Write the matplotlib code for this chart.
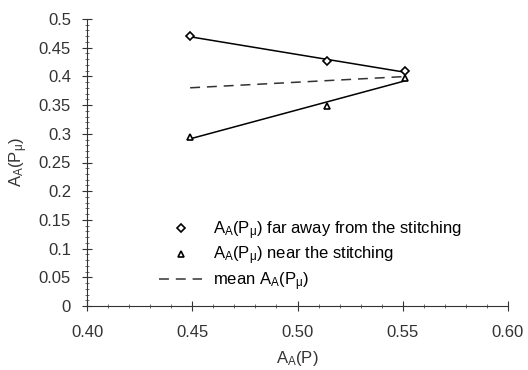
import numpy as np
import matplotlib
matplotlib.use("Agg")
from matplotlib import pyplot as plt
from matplotlib.ticker import MultipleLocator, FormatStrFormatter

# values
x_pos = [0.449, 0.514, 0.551]
far_vals = [0.470, 0.427, 0.409]
near_vals = [0.294, 0.348, 0.397]

x_ticks = [0.40, 0.45, 0.50, 0.55, 0.60]
y_ticks = [0, 0.05, 0.1, 0.15, 0.2, 0.25, 0.3, 0.35, 0.4, 0.45, 0.5]

plt.rcParams['font.family'] = ['Liberation Sans', 'DejaVu Sans']
plt.rcParams['mathtext.fontset'] = 'custom'
plt.rcParams['mathtext.rm'] = 'Liberation Sans'
plt.rcParams['mathtext.it'] = 'Liberation Sans'

fs = 12
txt = '#333333'
dash = (0, (6.5, 4.5))

fig = plt.figure(figsize=(5.28, 3.70), dpi=100)
ax = fig.add_axes([87 / 528, 64 / 370, 421 / 528, 287 / 370])

x = np.array(x_pos)
# linear trend lines, like the original spreadsheet chart
p_far = np.polyfit(x, far_vals, 1)
p_near = np.polyfit(x, near_vals, 1)
p_mean = (p_far + p_near) / 2
xs = np.array([x.min(), x.max()])

ax.plot(xs, np.polyval(p_far, xs), color='black', lw=1.1)
ax.plot(xs, np.polyval(p_near, xs), color='black', lw=1.1)
ax.plot(xs, np.polyval(p_mean, xs), color='#333333', lw=1.1, ls=dash)

lbl = r'A$_\mathrm{A}$(P$_\mathrm{\mu}$)'
ax.plot(x, far_vals, ls='none', marker='D', ms=4, mfc='white', mec='black', mew=1.2,
        label=lbl + ' far away from the stitching')
ax.plot(x, near_vals, ls='none', marker='^', ms=5, mfc='white', mec='black', mew=1.2,
        label=lbl + ' near the stitching')
ax.plot([], [], color='#333333', lw=1.1, ls=dash, label='mean ' + lbl)

ax.set_xlim(0.40, 0.60)
ax.set_ylim(0, 0.5)
ax.set_xticks(x_ticks)
ax.set_yticks(y_ticks)
ax.xaxis.set_major_formatter(FormatStrFormatter('%.2f'))
ax.set_yticklabels(['%g' % v for v in y_ticks])
ax.xaxis.set_minor_locator(MultipleLocator(0.01))
ax.yaxis.set_minor_locator(MultipleLocator(0.01))
ax.tick_params(which='major', direction='inout', length=7, width=0.8, labelsize=fs,
               colors=txt)
ax.tick_params(which='minor', direction='inout', length=3, width=0.6, colors='#555555')
ax.tick_params(axis='x', pad=10)
ax.tick_params(axis='y', pad=8)
for s in ['top', 'right']:
    ax.spines[s].set_visible(False)
for s in ['left', 'bottom']:
    ax.spines[s].set_color(txt)

ax.set_xlabel(r'A$_\mathrm{A}$(P)', fontsize=fs, color=txt, labelpad=7)
ax.set_ylabel(lbl, fontsize=fs, color=txt, labelpad=6)

fig.legend(loc='upper left', bbox_to_anchor=(159 / 528, 1 - 219 / 370), frameon=False,
           fontsize=fs, handlelength=2.6, handletextpad=0.65, labelspacing=0.18,
           borderpad=0, borderaxespad=0)

fig.savefig('out.png', dpi=100)
